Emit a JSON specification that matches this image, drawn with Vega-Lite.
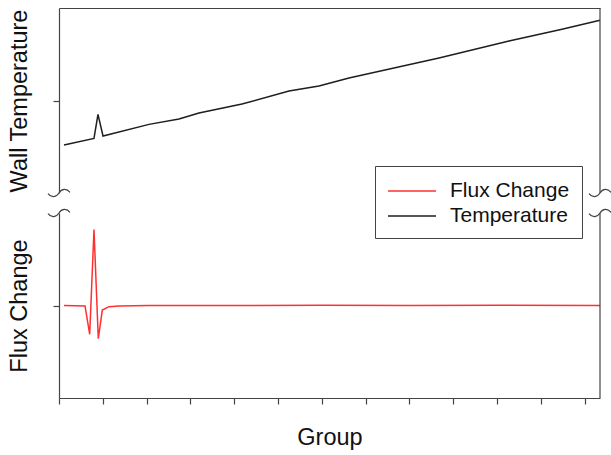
{
  "$schema": "https://vega.github.io/schema/vega-lite/v6.json",
  "padding": {"left": 7, "top": 7, "right": 10, "bottom": 0},
  "background": "white",
  "config": {
    "font": "Liberation Sans",
    "view": {"stroke": null},
    "axis": {
      "domainColor": "#444",
      "tickColor": "#444",
      "domainWidth": 1.2,
      "tickWidth": 1.2,
      "tickSize": 6,
      "labels": false,
      "grid": false,
      "titleFont": "Liberation Sans",
      "titleFontSize": 23.5,
      "titleFontWeight": "normal",
      "titleColor": "#111",
      "titlePadding": 21
    },
    "legend": {
      "orient": "none",
      "legendX": 316,
      "legendY": 158,
      "title": null,
      "symbolType": "M -1 0 L 3 0",
      "symbolSize": 576,
      "symbolStrokeWidth": 1.5,
      "labelFont": "Liberation Sans",
      "labelFontSize": 21,
      "labelColor": "#111",
      "strokeColor": "#444",
      "fillColor": "white",
      "padding": 12,
      "rowPadding": 2,
      "labelOffset": 37
    }
  },
  "datasets": {
    "temperature": [
      {"series": "Temperature", "x": 0.114, "value": 25.9},
      {"series": "Temperature", "x": 0.799, "value": 29.5},
      {"series": "Temperature", "x": 0.890, "value": 42.5},
      {"series": "Temperature", "x": 1.005, "value": 30.8},
      {"series": "Temperature", "x": 2.055, "value": 37.1},
      {"series": "Temperature", "x": 2.740, "value": 40.0},
      {"series": "Temperature", "x": 3.196, "value": 43.2},
      {"series": "Temperature", "x": 4.178, "value": 48.1},
      {"series": "Temperature", "x": 5.251, "value": 55.1},
      {"series": "Temperature", "x": 5.936, "value": 57.8},
      {"series": "Temperature", "x": 6.621, "value": 62.2},
      {"series": "Temperature", "x": 8.676, "value": 73.0},
      {"series": "Temperature", "x": 10.274, "value": 82.2},
      {"series": "Temperature", "x": 11.484, "value": 88.5},
      {"series": "Temperature", "x": 12.352, "value": 93.4}
    ],
    "flux": [
      {"series": "Flux Change", "x": 0.114, "value": 0},
      {"series": "Flux Change", "x": 0.594, "value": -0.005},
      {"series": "Flux Change", "x": 0.701, "value": -0.311},
      {"series": "Flux Change", "x": 0.799, "value": 0.822},
      {"series": "Flux Change", "x": 0.897, "value": -0.359},
      {"series": "Flux Change", "x": 0.989, "value": -0.049},
      {"series": "Flux Change", "x": 1.142, "value": -0.013},
      {"series": "Flux Change", "x": 1.370, "value": -0.005},
      {"series": "Flux Change", "x": 2.055, "value": 0},
      {"series": "Flux Change", "x": 4.0, "value": 0},
      {"series": "Flux Change", "x": 6.0, "value": 0.002},
      {"series": "Flux Change", "x": 8.0, "value": 0},
      {"series": "Flux Change", "x": 10.0, "value": 0.003},
      {"series": "Flux Change", "x": 12.352, "value": 0}
    ],
    "edges": [
      {"edge": 0},
      {"edge": 12.352}
    ]
  },
  "spacing": 8,
  "resolve": {"scale": {"color": "shared"}},
  "vconcat": [
    {
      "width": 541,
      "height": 185,
      "layer": [
        {
          "data": {"name": "temperature"},
          "mark": {"type": "line", "strokeWidth": 1.5},
          "encoding": {
            "x": {"field": "x", "type": "quantitative", "scale": {"domain": [0, 12.352], "nice": false, "zero": false}, "axis": {"orient": "top", "ticks": false, "labels": false, "title": null}},
            "y": {"field": "value", "type": "quantitative", "scale": {"domain": [0, 100], "nice": false}, "axis": {"values": [50], "title": "Wall Temperature"}},
            "color": {"field": "series", "type": "nominal", "scale": {"domain": ["Flux Change", "Temperature"], "range": ["#ff3030", "#1e1e1e"]}}
          }
        },
        {
          "data": {"values": [{}]},
          "mark": {"type": "rule", "color": "#444", "strokeWidth": 1.2},
          "encoding": {"x": {"datum": 12.352}, "y": {"datum": 0}, "y2": {"datum": 100}}
        },
        {
          "data": {"name": "edges"},
          "mark": {"type": "point", "shape": "M -1 0.05 C -0.7 0.45 -0.25 0.4 0 0 C 0.25 -0.4 0.7 -0.45 1 -0.05", "size": 484, "filled": false, "stroke": "#444", "strokeWidth": 1.2, "opacity": 1},
          "encoding": {"x": {"field": "edge", "type": "quantitative"}, "y": {"datum": 0}}
        }
      ]
    },
    {
      "width": 541,
      "height": 185,
      "layer": [
        {
          "data": {"name": "flux"},
          "mark": {"type": "line", "strokeWidth": 1.5},
          "encoding": {
            "x": {"field": "x", "type": "quantitative", "scale": {"domain": [0, 12.352], "nice": false, "zero": false}, "axis": {"values": [0, 1, 2, 3, 4, 5, 6, 7, 8, 9, 10, 11, 12], "title": "Group"}},
            "y": {"field": "value", "type": "quantitative", "scale": {"domain": [-1, 1], "nice": false}, "axis": {"values": [0], "title": "Flux Change"}},
            "color": {"field": "series", "type": "nominal"}
          }
        },
        {
          "data": {"values": [{}]},
          "mark": {"type": "rule", "color": "#444", "strokeWidth": 1.2},
          "encoding": {"x": {"datum": 12.352}, "y": {"datum": -1}, "y2": {"datum": 1}}
        },
        {
          "data": {"name": "edges"},
          "mark": {"type": "point", "shape": "M -1 0.05 C -0.7 0.45 -0.25 0.4 0 0 C 0.25 -0.4 0.7 -0.45 1 -0.05", "size": 484, "filled": false, "stroke": "#444", "strokeWidth": 1.2, "opacity": 1},
          "encoding": {"x": {"field": "edge", "type": "quantitative"}, "y": {"datum": 1}}
        }
      ]
    }
  ]
}
